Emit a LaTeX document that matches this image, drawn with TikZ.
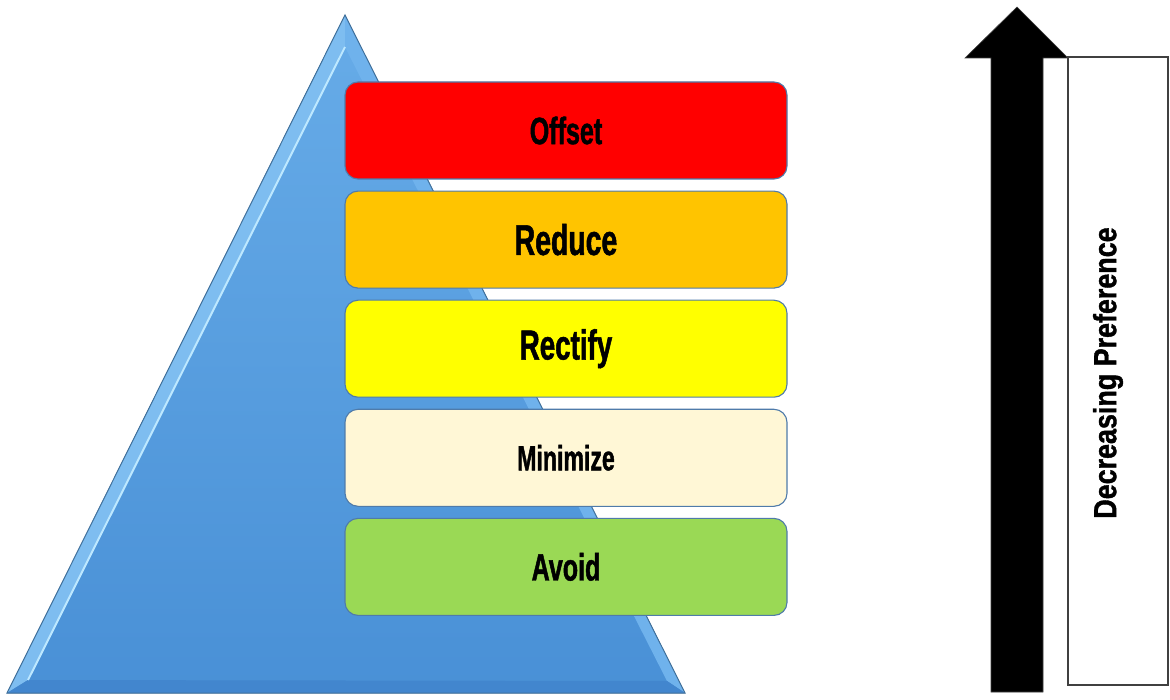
\documentclass[tikz,border=0pt]{standalone}
\usepackage{fontspec}
\setmainfont{Liberation Sans}
\newfontfamily\boxfont[FakeStretch=0.66,FakeBold=1.2]{Liberation Sans}
\newfontfamily\sidefont[FakeStretch=0.84,FakeBold=1.2]{Liberation Sans}
\usetikzlibrary{positioning}

\definecolor{pyrtop}{HTML}{67ACE8}
\definecolor{pyrbottom}{HTML}{4990D6}
\definecolor{pyredge}{HTML}{41719C}
\definecolor{bevelleft}{HTML}{7EBDF0}
\definecolor{bevelright}{HTML}{6FB2EC}
\definecolor{bevelbottom}{HTML}{4286CE}
\definecolor{glint}{HTML}{BDE8FF}
\definecolor{boxedge}{HTML}{4F7BAA}
\definecolor{offsetred}{HTML}{FF0000}
\definecolor{reduceorange}{HTML}{FFC400}
\definecolor{rectifyyellow}{HTML}{FFFF00}
\definecolor{minimizecream}{HTML}{FFF7D6}
\definecolor{avoidgreen}{HTML}{9AD955}
\definecolor{sideedge}{HTML}{404040}

\begin{document}
\begin{tikzpicture}[x=1pt,y=-1pt,
  level/.style={draw=boxedge, line width=1.1pt, rounded corners=13pt,
    minimum width=442pt, minimum height=97pt, inner sep=0pt,
    font=\boxfont\bfseries}]
\useasboundingbox (0,0) rectangle (1170,700);

\coordinate (Apex) at (345,15);
\coordinate (BL) at (7,693);
\coordinate (BR) at (685,693);
\coordinate (InApex) at (345,47);
\coordinate (InBL) at (28,680);
\coordinate (InBR) at (667,681);

% pyramid with its bevelled rim
\fill[top color=pyrtop, bottom color=pyrbottom] (Apex) -- (BR) -- (BL) -- cycle;
\fill[bevelleft] (Apex) -- (BL) -- (InBL) -- (InApex) -- cycle;
\fill[bevelright] (Apex) -- (BR) -- (InBR) -- (InApex) -- cycle;
\fill[bevelbottom] (BL) -- (BR) -- (InBR) -- (InBL) -- cycle;
\draw[glint, line width=2pt] (InBL) -- (InApex);
\draw[pyredge, line width=1pt] (Apex) -- (BR) -- (BL) -- cycle;

% the five levels
\node[level, fill=offsetred] (offset) at (566,130.5)
  {\fontsize{38}{40}\selectfont Offset};
\node[level, fill=reduceorange, below=11pt of offset] (reduce)
  {\fontsize{43}{45}\selectfont Reduce};
\node[level, fill=rectifyyellow, below=11pt of reduce] (rectify)
  {\fontsize{42}{44}\selectfont Rectify};
\node[level, fill=minimizecream, below=11pt of rectify] (minimize)
  {\fontsize{35}{37}\selectfont Minimize};
\node[level, fill=avoidgreen, below=11pt of minimize] (avoid)
  {\fontsize{38}{40}\selectfont Avoid};

% block arrow
\coordinate (Tip) at (1017,7);
\coordinate (HeadL) at (965,58);
\coordinate (HeadR) at (1068,58);
\coordinate (ShaftTL) at (991,58);
\coordinate (ShaftTR) at (1043,58);
\coordinate (ShaftBL) at (991,692);
\coordinate (ShaftBR) at (1043,692);
\fill[black, draw=sideedge, line width=0.6pt] (Tip) -- (HeadR) -- (ShaftTR) -- (ShaftBR)
  -- (ShaftBL) -- (ShaftTL) -- (HeadL) -- cycle;

\node[draw=sideedge, line width=1.4pt, minimum width=100pt, minimum height=628pt,
  inner sep=0pt] (pref) at (1118,371) {};
\node[rotate=90, font=\sidefont\bfseries\fontsize{32}{34}\selectfont] (preftext)
  at (1108,373) {Decreasing Preference};
\end{tikzpicture}
\end{document}
